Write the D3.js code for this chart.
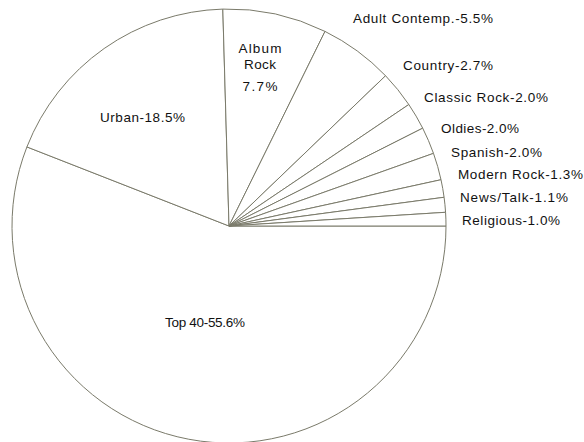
<!DOCTYPE html>
<html>
<head>
<meta charset="utf-8">
<script src="https://cdn.jsdelivr.net/npm/d3@7/dist/d3.min.js"></script>
<style>
  html, body { margin: 0; padding: 0; background: #fff; }
  svg { display: block; }
  text { font-family: "Liberation Sans", Arial, Helvetica, sans-serif; fill: #111; }
</style>
</head>
<body>
<svg id="chart" width="584" height="442"></svg>
<script>
// Radio format shares, listed clockwise from the 3 o'clock position
const formats = ["Top 40", "Urban", "Album Rock", "Adult Contemp.", "Country",
                 "Classic Rock", "Oldies", "Spanish", "Modern Rock", "News/Talk", "Religious"];
const shares  = [55.6, 18.5, 7.7, 5.5, 2.7, 2.0, 2.0, 2.0, 1.3, 1.1, 1.0];

// Label placement: left x (or centre for "middle"), vertical centre y, set width w
const labelLayout = [
  { x: 165, y: 322, w: 80,  anchor: "start" },
  { x: 100, y: 117, w: 85,  anchor: "start" },
  { x: 260, y: 48,  anchor: "middle",
    lines: ["Album", "Rock", "{v}%"], dy: [0, 16, 38], lw: [43, 32, 35] },
  { x: 353, y: 18,  w: 140, anchor: "start" },
  { x: 403, y: 65,  w: 90,  anchor: "start" },
  { x: 424, y: 97,  w: 124, anchor: "start" },
  { x: 441, y: 128, w: 78,  anchor: "start" },
  { x: 451, y: 152, w: 91,  anchor: "start" },
  { x: 458, y: 174, w: 125, anchor: "start" },
  { x: 460, y: 197, w: 108, anchor: "start" },
  { x: 462, y: 220, w: 98,  anchor: "start" }
];

const cx = 229, cy = 226, radius = 217;
const stroke = "#7a7a6a";
const fontSize = 13.5;

const data = formats.map((f, i) => ({ format: f, share: shares[i] }));

const pie = d3.pie()
  .value(d => d.share)
  .sort(null)
  .startAngle(Math.PI / 2)
  .endAngle(Math.PI / 2 + 2 * Math.PI);

const arc = d3.arc().innerRadius(0).outerRadius(radius);

const svg = d3.select("#chart");
const g = svg.append("g").attr("transform", `translate(${cx},${cy})`);

g.selectAll("path.slice")
  .data(pie(data))
  .join("path")
  .attr("class", "slice")
  .attr("d", arc)
  .attr("fill", "#fff")
  .attr("stroke", stroke)
  .attr("stroke-width", 1)
  .attr("stroke-linejoin", "round");

const fmt = v => v.toFixed(1);

data.forEach((d, i) => {
  const L = labelLayout[i];
  const t = svg.append("text")
    .attr("text-anchor", L.anchor)
    .attr("font-size", fontSize)
    .attr("dominant-baseline", "central");
  if (L.lines) {
    L.lines.forEach((ln, k) => {
      t.append("tspan")
        .attr("x", L.x)
        .attr("y", L.y + L.dy[k])
        .attr("textLength", L.lw[k])
        .attr("lengthAdjust", "spacing")
        .text(ln.replace("{v}", fmt(d.share)));
    });
  } else {
    t.attr("x", L.x).attr("y", L.y)
      .attr("textLength", L.w)
      .attr("lengthAdjust", "spacing")
      .text(`${d.format}-${fmt(d.share)}%`);
  }
});
</script>
</body>
</html>
